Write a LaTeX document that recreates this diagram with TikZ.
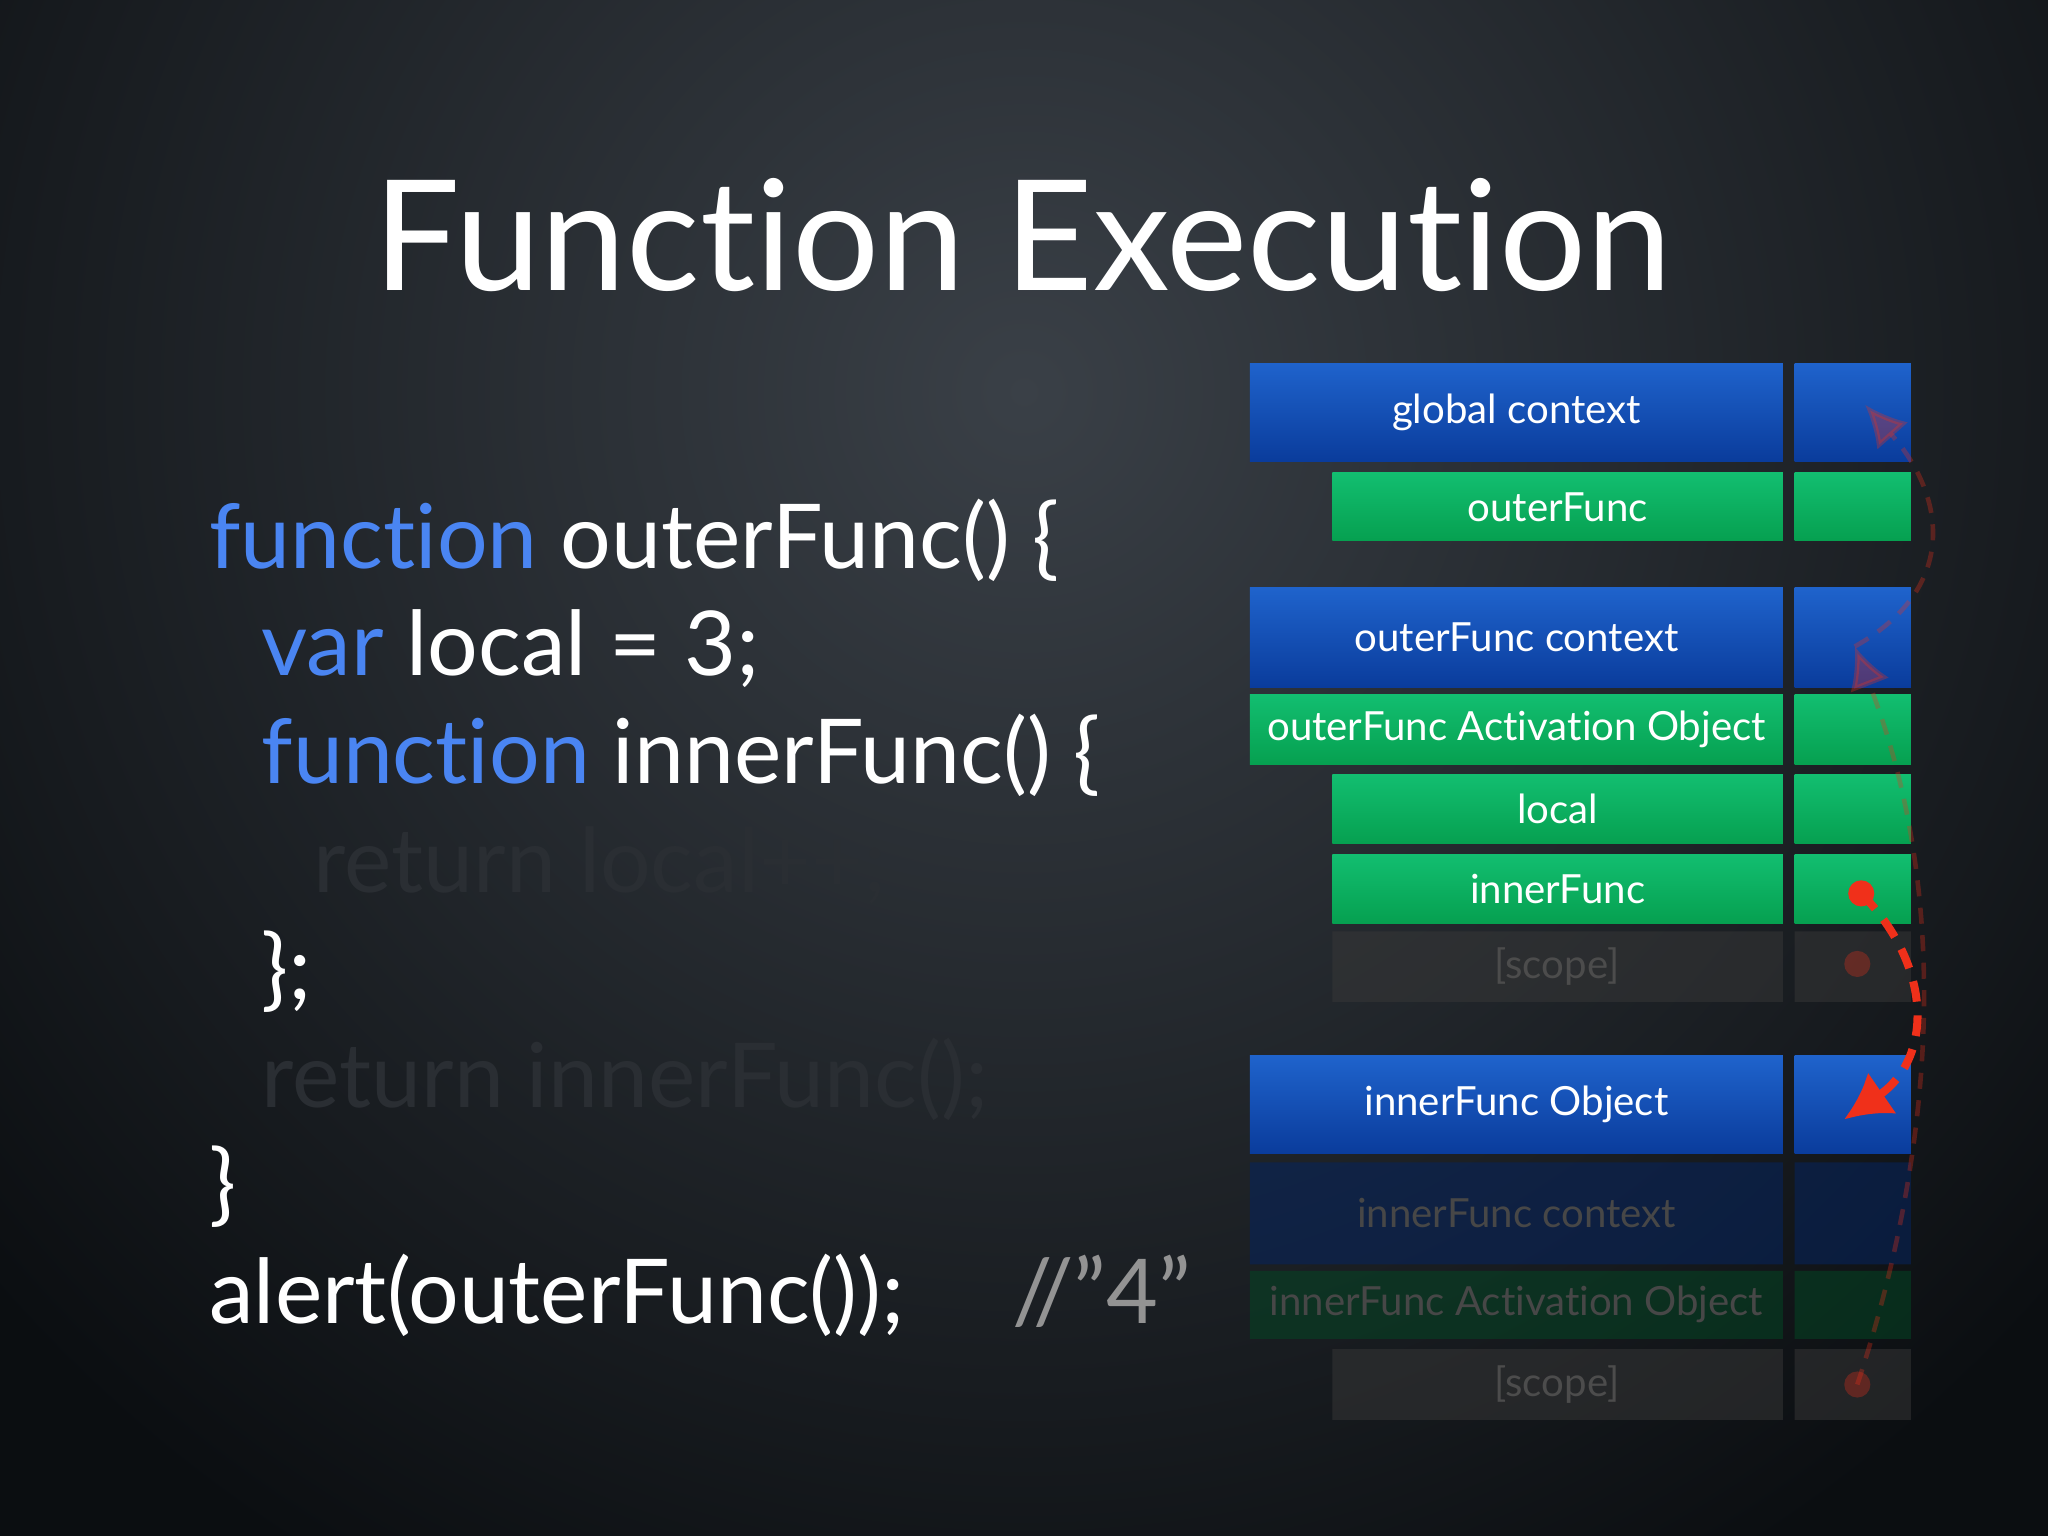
\documentclass[tikz,border=0pt]{standalone}
\usepackage{fontspec}
\setmainfont{Lato}[Ligatures={NoCommon}]
\usetikzlibrary{arrows.meta}
\definecolor{kw}{HTML}{4A85F2}
\definecolor{bA}{HTML}{1F63CC}
\definecolor{bB}{HTML}{0A3C9C}
\definecolor{gA}{HTML}{12BE70}
\definecolor{gB}{HTML}{06A050}
\definecolor{rd}{HTML}{F0301A}
\definecolor{bgin}{HTML}{3A4047}
\definecolor{bgout}{HTML}{0B0E11}
\definecolor{faint}{HTML}{2A2E33}
\tikzset{
  bluebox/.style={top color=bA,bottom color=bB,draw=none,text=white},
  greenbox/.style={top color=gA,bottom color=gB,draw=none,text=white},
  fadebox/.style={fill=#1,draw=none},
  lbl/.style={text=white,font=\fontsize{17.5}{17.5}\selectfont},
  flbl/.style={font=\fontsize{17.5}{17.5}\selectfont},
  code/.style={anchor=base west,text=white,font=\fontsize{39}{39}\selectfont,inner sep=0},
}
\begin{document}
\begin{tikzpicture}[x=0.02cm,y=-0.02cm]
\useasboundingbox (0,0) rectangle (1568,1176);
\fill[bgout] (0,0) rectangle (1568,1176);
\shade[inner color=bgin,outer color=bgout] (784,300) circle (1050);
\node[text=white,font=\fontsize{67}{67}\selectfont] (title) at (783,180) {Function Execution};
% code
\node[code] (c1) at (160,435) {\textcolor{kw}{function} outerFunc() \{};
\node[code] (c2) at (200,517) {\textcolor{kw}{var} local = 3;};
\node[code] (c3) at (200,600) {\textcolor{kw}{function} innerFunc() \{};
\node[code,text=faint] (c4) at (240,683) {return local++;};
\node[code] (c5) at (200,765) {\};};
\node[code,text=faint] (c6) at (200,848) {return innerFunc();};
\node[code] (c7) at (160,930) {\}};
\node[code] (c8) at (160,1013) {alert(outerFunc());};
\node[code,text=gray!85!white] (c9) at (775,1013) {//”4”};
% boxes
\newcommand\bx[7]{% name, style, x1, y1, x2, y2, text
  \path[#2] (#3,#4) rectangle (#5,#6);
  \node[lbl] (#1) at ({(#3+#5)/2},{(#4+#6)/2}) {#7};
  \path[#2] (1374,#4) rectangle (1463,#6);
  \coordinate (#1r) at (1418,{(#4+#6)/2});}
\bx{g}{bluebox}{957}{278}{1365}{353}{global context}
\bx{of}{greenbox}{1020}{362}{1365}{414}{outerFunc}
\bx{oc}{bluebox}{957}{450}{1365}{526}{outerFunc context}
\bx{oa}{greenbox}{957}{532}{1365}{585}{outerFunc Activation Object}
\bx{lo}{greenbox}{1020}{593}{1365}{646}{local}
\bx{inf}{greenbox}{1020}{654}{1365}{707}{innerFunc}
\path[fadebox=white!22!black,opacity=0.5] (1020,713) rectangle (1365,767) (1374,713) rectangle (1463,767);
\node[flbl,text=white!30!black] (s1) at (1192,740) {[scope]};
\bx{io}{bluebox}{957}{808}{1365}{883}{innerFunc Object}
\path[fadebox=bB!60!black,opacity=0.55] (957,890) rectangle (1365,968) (1374,890) rectangle (1463,968);
\node[flbl,text=white!28!black] (ic) at (1161,929) {innerFunc context};
\path[fadebox=gB!45!black,opacity=0.5] (957,973) rectangle (1365,1025) (1374,973) rectangle (1463,1025);
\node[flbl,text=white!28!black] (ia) at (1161,999) {innerFunc Activation Object};
\path[fadebox=white!22!black,opacity=0.5] (1020,1033) rectangle (1365,1087) (1374,1033) rectangle (1463,1087);
\node[flbl,text=white!30!black] (s2) at (1192,1060) {[scope]};
% faint scope chains
\coordinate (d1) at (1422,738);
\coordinate (d2) at (1422,1060);
\coordinate (t1) at (1428,310);
\coordinate (t2) at (1420,495);
\fill[rd,opacity=0.3] (d1) circle (10);
\fill[rd,opacity=0.3] (d2) circle (10);
\draw[rd,opacity=0.3,line width=2pt,dash pattern=on 7pt off 5pt,-{Latex[length=18,width=18]}] (d2) .. controls (1475,900) and (1500,700) .. (t2);
\draw[rd,opacity=0.3,line width=2pt,dash pattern=on 7pt off 5pt,-{Latex[length=18,width=18]}] (t2) .. controls (1500,450) and (1490,380) .. (t1);
% active arrow
\coordinate (dot) at (1425,684);
\coordinate (tip) at (1412,857);
\fill[rd] (dot) circle (10);
\draw[rd,line width=3.5pt,dash pattern=on 9pt off 6pt,-{Latex[length=20,width=22]}] (dot) .. controls (1480,740) and (1480,810) .. (tip);
\end{tikzpicture}
\end{document}
